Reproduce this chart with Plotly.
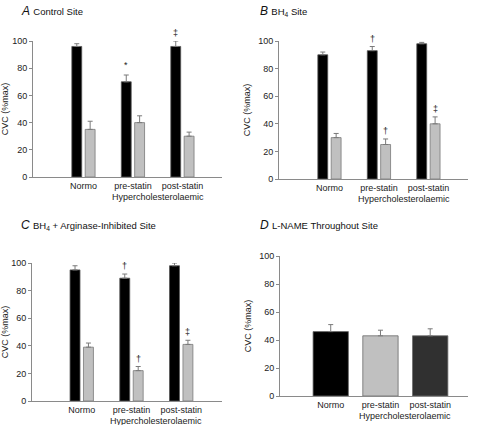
import plotly.graph_objects as go

groups = ["Normo", "pre-statin", "post-statin"]
group_label = "Hypercholesterolaemic"
yticks = [0, 20, 40, 60, 80, 100]

# Panel A: Control Site
a_black = [96, 70, 96]
a_black_err = [2, 5, 4]
a_gray = [35, 40, 30]
a_gray_err = [6, 5, 3]
a_black_marks = ["", "*", "‡"]
a_gray_marks = ["", "", ""]

# Panel B: BH4 Site
b_black = [90, 93, 98]
b_black_err = [2, 3, 1]
b_gray = [30, 25, 40]
b_gray_err = [3, 4, 5]
b_black_marks = ["", "†", ""]
b_gray_marks = ["", "†", "‡"]

# Panel C: BH4 + Arginase-Inhibited Site
c_black = [95, 89, 98]
c_black_err = [3, 3, 2]
c_gray = [39, 22, 41]
c_gray_err = [3, 3, 3]
c_black_marks = ["", "†", ""]
c_gray_marks = ["", "†", "‡"]

# Panel D: L-NAME Throughout Site
d_vals = [46, 43, 43]
d_err = [5, 4, 5]
d_colors = ["#000000", "#c0c0c0", "#303030"]

FONT = "Liberation Sans, Arial, sans-serif"
AXC = "#8a8a8a"
ERRC = "#7a7a7a"

fig = go.Figure()

W, H = 480, 425
def xd(a, b):
    return [a / W, b / W]
def yd(top, bot):
    return [1 - bot / H, 1 - top / H]

panels = [
    dict(n="", xdom=xd(33, 222), ydom=yd(41, 177)),
    dict(n="2", xdom=xd(279, 468), ydom=yd(41, 179)),
    dict(n="3", xdom=xd(32, 222), ydom=yd(263, 401)),
    dict(n="4", xdom=xd(280, 468), ydom=yd(256, 396)),
]

pos = list(range(len(groups)))

def add_pair(p, black, berr, gray, gerr, bmarks, gmarks):
    xa = "x" + p["n"]
    ya = "y" + p["n"]
    fig.add_trace(go.Bar(
        x=pos, y=black, offset=-0.235, width=0.2, xaxis=xa, yaxis=ya,
        marker=dict(color="#000000", line=dict(color="#555555", width=0.8)),
        error_y=dict(type="data", array=berr, arrayminus=[0] * 3, symmetric=False,
                     color=ERRC, thickness=1, width=2.5),
        showlegend=False, hoverinfo="skip"))
    fig.add_trace(go.Bar(
        x=pos, y=gray, offset=0.035, width=0.2, xaxis=xa, yaxis=ya,
        marker=dict(color="#c0c0c0", line=dict(color="#7a7a7a", width=0.8)),
        error_y=dict(type="data", array=gerr, arrayminus=[0] * 3, symmetric=False,
                     color=ERRC, thickness=1, width=2.5),
        showlegend=False, hoverinfo="skip"))
    for i in pos:
        if bmarks[i]:
            fig.add_annotation(x=i - 0.135, y=black[i] + berr[i], xref=xa, yref=ya,
                               text=bmarks[i], showarrow=False, yanchor="bottom",
                               yshift=1 if bmarks[i] != "*" else 3,
                               font=dict(family=FONT, size=9, color="#222"))
        if gmarks[i]:
            fig.add_annotation(x=i + 0.135, y=gray[i] + gerr[i], xref=xa, yref=ya,
                               text=gmarks[i], showarrow=False, yanchor="bottom", yshift=1,
                               font=dict(family=FONT, size=9, color="#222"))

add_pair(panels[0], a_black, a_black_err, a_gray, a_gray_err, a_black_marks, a_gray_marks)
add_pair(panels[1], b_black, b_black_err, b_gray, b_gray_err, b_black_marks, b_gray_marks)
add_pair(panels[2], c_black, c_black_err, c_gray, c_gray_err, c_black_marks, c_gray_marks)

fig.add_trace(go.Bar(
    x=pos, y=d_vals, width=0.71, xaxis="x4", yaxis="y4",
    marker=dict(color=d_colors, line=dict(color="#6a6a6a", width=0.8)),
    error_y=dict(type="data", array=d_err, arrayminus=[0] * 3, symmetric=False,
                 color=ERRC, thickness=1, width=2.5),
    showlegend=False, hoverinfo="skip"))

layout = dict(
    width=W, height=H, margin=dict(l=0, r=0, t=0, b=0, autoexpand=False),
    plot_bgcolor="white", paper_bgcolor="white", template="none",
    barmode="overlay",
    font=dict(family=FONT, size=9, color="#222"),
)
xranges = [[-1.02, 2.8], [-1.02, 2.8], [-1.0, 2.82], [-1.02, 2.76]]
for k, p in enumerate(panels):
    n = p["n"]
    layout["xaxis" + n] = dict(
        domain=p["xdom"], range=xranges[k], anchor="y" + n, automargin=False,
        tickvals=pos, ticktext=groups, showgrid=False, zeroline=False,
        showline=True, linecolor=AXC, linewidth=1, ticks="", ticklen=0,
        tickfont=dict(size=9, family=FONT, color="#222"), fixedrange=True)
    layout["yaxis" + n] = dict(
        domain=p["ydom"], range=[0, 100], anchor="x" + n, automargin=False,
        tickvals=yticks, showgrid=False, zeroline=False,
        showline=True, linecolor=AXC, linewidth=1, ticks="outside", ticklen=3,
        tickcolor=AXC, tickfont=dict(size=9, family=FONT, color="#222"),
        title=dict(text="CVC (%max)", font=dict(size=9, family=FONT, color="#222"), standoff=6),
        fixedrange=True)
    fig.add_annotation(x=1.5, y=0, xref="x" + n, yref="y" + n, text=group_label,
                       showarrow=False, yanchor="top", yshift=-13,
                       font=dict(family=FONT, size=9, color="#222"))
fig.update_layout(**layout)

titles = [
    (19, 11, "A", "Control Site"),
    (258, 11, "B", "BH<sub>4</sub> Site"),
    (19, 225, "C", "BH<sub>4</sub> + Arginase-Inhibited Site"),
    (258, 225, "D", "L-NAME Throughout Site"),
]
for (px, py, letter, txt) in titles:
    fig.add_annotation(x=px / W, y=1 - py / H, xref="paper", yref="paper",
                       xanchor="left", yanchor="middle", showarrow=False,
                       text="<i>" + letter + "</i> " + "<span style='font-size:9.5px'>" + txt + "</span>",
                       font=dict(family=FONT, size=12, color="#111"))

fig.write_html("out.html", config={"displayModeBar": False, "staticPlot": True},
               post_script="document.body.style.margin='0';document.body.style.overflow='hidden';")
